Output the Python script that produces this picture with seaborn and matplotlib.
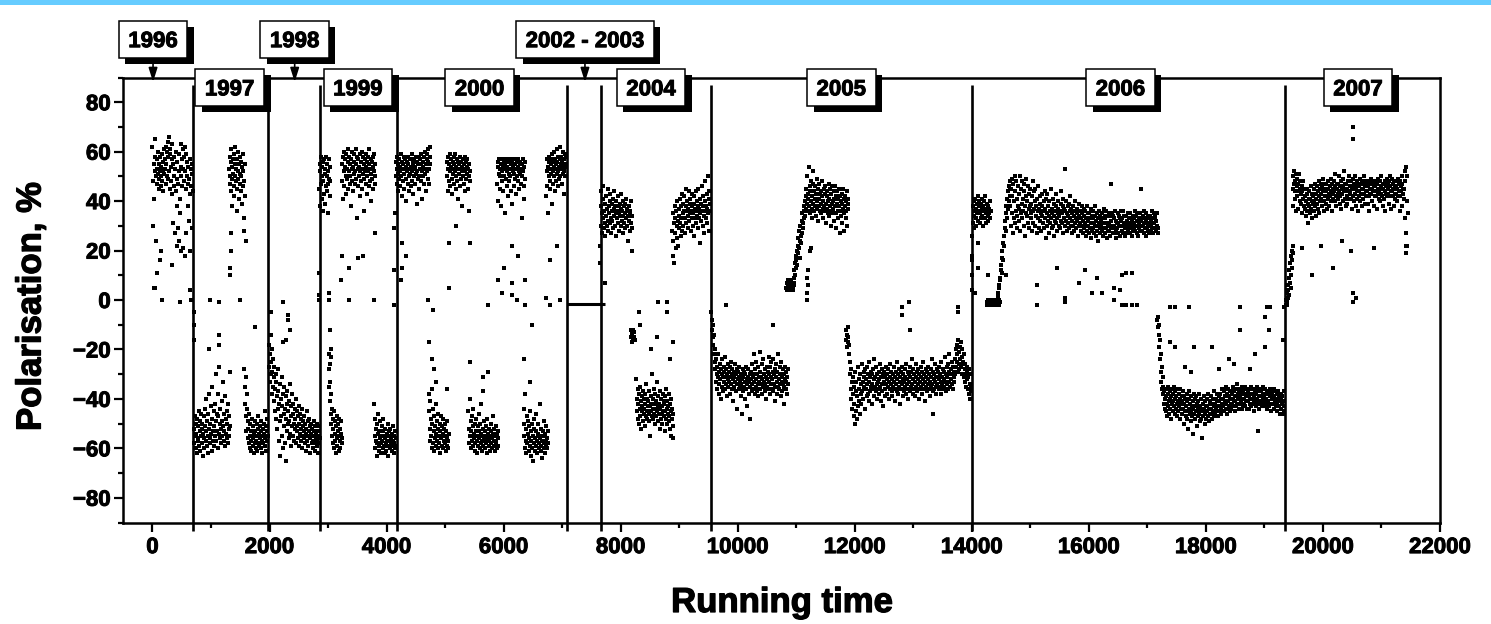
import numpy as np
import pandas as pd
import matplotlib
matplotlib.use("Agg")
import matplotlib.pyplot as plt
import matplotlib.patheffects as pe
from matplotlib.patches import Rectangle
from matplotlib.transforms import IdentityTransform
from matplotlib.ticker import MultipleLocator
import seaborn as sns

# ---------------- data ----------------
year_bounds = [700, 1980, 2870, 4170, 7080, 7660, 9545, 14000, 19350]
year_labels = ["1996", "1997", "1998", "1999", "2000", "2002 - 2003",
               "2004", "2005", "2006", "2007"]
label_x = [10, 1320, 2430, 3510, 5590, 7390, 8520, 11770, 16540, 20600]
label_row = [1, 0, 1, 0, 0, 1, 0, 0, 0, 0]       # 1 = upper row with arrow
gap_level = -1.5
gap_span = [7080, 7740]

y96 = """62 48 30 55 41 58 65 52 24 50 53 57 47 51 60 49 55 45 52 58
50 46 54 59 48 52 44 56 61 51 57 53 62 47 55 60 50 64 49 58
66 52 59 45 61 54 48 63 57 43 55 31 50 58 46 27 53 60 44 49
38 56 29 47 52 24 59 41 35 54 63 50 57 46 61 21 53 58 48 62
52 45 59 27 50 56 38 47 54 32 49 57 43 20 53 46 55 29 51 44"""
y97a = """-52 -58 -47 -55 -60 -50 -54 -62 -48 -56 -51 -57 -45 -59 -53 -49 -61 -55 -46 -52
-58 -50 -63 -54 -47 -56 -60 -51 -44 -57 -53 -40 -59 -49 -55 -62 -46 -52 -38 -58
-50 -56 -43 -54 -61 -48 -35 -53 -57 -45 -51 -59 -42 -55 -30 -49 -57 -46 -53 -38
-60 -47 -54 -27 -50 -56 -44 -52 -58 -41 -49 -55 -33 -51 -57 -46 -53 -39 -59 -48
-54 -45 -56 -50 -42 -58 -52 -47 -55 -51"""
y97b = """53 47 58 50 44 56 61 49 54 38 57 51 46 59 42 55 50 62 48 53
36 57 45 52 60 49 41 55 58 47 51 44 56 50 39 54 59 46 52 33 48 28 55 42 24"""
y97c = """-28 -42 -35 -47 -31 -53 -44 -38 -56 -49 -52 -58 -46 -55 -60 -50 -57 -53 -61 -48
-55 -59 -51 -56 -62 -54 -49 -58 -53 -60 -57 -50 -55 -61 -52 -47 -58 -54 -59 -51
-56 -60 -53 -49 -57 -62 -55 -52 -58 -50 -54 -45 -59 -56 -51 -61 -48 -57 -53 -55"""
y98 = """-18 -27 -22 -33 -14 -30 -25 -38 -20 -29 -35 -24 -41 -31 -27 -45 -36 -30 -48 -33
-39 -52 -28 -44 -37 -57 -42 -34 -49 -63 -40 -47 -31 -55 -43 -38 -60 -46 -35 -51
-44 -58 -39 -48 -65 -42 -53 -37 -50 -45 -56 -41 -49 -34 -54 -47 -59 -43 -51 -38
-46 -55 -42 -50 -57 -44 -52 -48 -40 -58 -53 -45 -51 -47 -56 -43 -59 -50 -54 -46
-52 -57 -48 -55 -44 -60 -51 -49 -56 -53 -47 -58 -50 -54 -61 -52 -45 -57 -55 -49
-59 -53 -48 -56 -51 -62 -54 -50 -58 -55 -52 -60 -57 -49 -55 -53 -61 -51 -56 -58
-54 -50 -59 -57 -53 -62 -55 -51 -58 -56"""
y99a = """45 52 38 55 47 58 41 50 54 36 56 48 43 57 51 39 53 46 58 44
50 55 47 35 52 57 49 42 54 48"""
y99b = """-22 -35 -28 -41 -33 -46 -38 -50 -44 -55 -48 -58 -52 -45 -60 -54 -49 -57 -62 -51
-56 -47 -59 -53 -50 -61 -55 -48 -57 -52 -60 -54 -49 -58 -56"""
y99c = """48 55 41 58 52 60 46 54 57 50 43 59 53 49 56 61 45 52 58 47
55 50 38 57 53 60 48 54 44 59 51 56 47 52 61 49 55 33 58 53
46 57 50 54 42 59 52 48 56 60 45 53 58 51 36 55 49 57 52 47
59 54 50 43 56 52 58 46 55 61 48 53 57 40 51 56 49 58 54 45 52 59 47 55 50"""
y99d = """-42 -55 -48 -60 -52 -57 -63 -50 -58 -54 -46 -59 -53 -61 -56 -49 -58 -62 -55 -51
-57 -60 -53 -48 -59 -55 -62 -56 -52 -58 -61 -54 -57 -50 -59 -63 -55 -53 -60 -57
-52 -58 -56 -61 -54 -59 -51 -57 -62 -55 -58 -53 -60 -56 -59"""
y00a = """35 50 56 47 53 58 44 51 55 49 57 52 46 54 59 50 42 56 53 48
55 51 58 45 53 57 49 54 40 56 52 47 55 58 50 44 53 57 51 46
54 59 48 52 56 43 55 50 57 53 47 54 58 51 39 56 52 49 55 58
50 45 57 53 48 55 59 52 41 54 56 50 58 47 53 60 51 55 44 57
52 59 49 56 61 53 47 58 55 62"""
y00b = """-38 -45 -52 -41 -57 -48 -55 -36 -60 -50 -44 -58 -53 -47 -61 -51 -56 -42 -59 -54
-49 -57 -46 -60 -52 -55 -58 -50 -62 -53 -47 -56 -59 -51 -54 -48 -60 -57 -52 -55
-58 -50 -61 -53 -56 -59 -49 -57 -60 -54"""
y00c = """50 56 44 53 58 48 55 52 59 46 54 57 49 53 43 56 51 58 47 55
52 59 45 54 50 57 48 53 56 41 55 51 58 46 53 49 56 52 38 54
57 50 55 47 53 58 44 52 56 49 54 51 57 45 53 36 55 50 52 48"""
y00d = """-45 -52 -58 -40 -55 -49 -60 -53 -47 -57 -51 -59 -44 -56 -54 -61 -50 -58 -53 -48
-57 -55 -62 -51 -59 -46 -56 -53 -60 -50 -58 -54 -42 -57 -61 -52 -55 -59 -49 -56
-53 -60 -57 -51 -58 -55 -62 -48 -56 -54 -59 -52 -57 -61 -55 -50 -58 -53 -60 -56
-54 -47 -59 -57 -52 -61 -55 -58 -51 -57 -60 -54 -56 -59 -53"""
y00e = """47 54 40 56 51 57 45 53 50 55 38 52 57 48 54 44 56 50 53 35
55 49 57 52 46 54 42 56 51 53 48 57 50 55 44 53 56 39 52 54
57 46 51 55 49 57 53 43 56 50 54 48 57 52 45 55 51 56 47 53
33 55 50 57 52 46 54 41 56 49"""
y00f = """-44 -55 -50 -60 -38 -57 -52 -62 -47 -58 -54 -49 -61 -56 -51 -59 -45 -63 -53 -57
-60 -50 -55 -65 -52 -58 -48 -61 -56 -53 -59 -46 -57 -62 -54 -50 -60 -55 -58 -42
-56 -61 -52 -59 -57 -64 -53 -55 -49 -60 -58 -54 -62 -51 -57 -59 -56 -60 -53 -58"""
y00g = """42 52 57 46 54 35 56 50 58 48 53 45 57 51 55 39 59 52 47 56
54 50 60 44 57 53 48 55 61 51 56 46 58 52 54 49 57 62 50 55
53 58 47 56 51 60 54 43 57 52 59 55 50 58 54"""
y04a = """22 38 30 44 27 35 41 33 46 29 36 31 39 26 42 34 37 30 45 32
28 38 35 40 31 43 33 27 39 36 32 41 29 37 34 44 30 38 35 26
40 33 36 42 31 38 28 35 39 34 37 30 43 32 36 27 40 34 38 31
35 29 39 33 41 36 30 37 24 34 38 32 35 28 36 40 31 20 34 29"""
y04b = "-12 -15 -13 -17 -14 -16 -12 -15 -13 -16"
y04c = """-32 -40 -45 -36 -48 -42 -38 -50 -44 -35 -47 -41 -52 -39 -45 -43 -37 -49 -46 -40
-44 -38 -51 -42 -47 -34 -45 -40 -48 -43 -41 -46 -37 -49 -43 -55 -39 -45 -42 -47
-30 -44 -40 -48 -36 -46 -42 -50 -38 -44 -41 -47 -33 -45 -43 -49 -39 -46 -42 -52
-37 -44 -48 -40 -46 -43 -50 -38 -45 -41 -47 -42 -53 -39 -45 -48 -36 -44 -50 -41
-46 -43 -49 -38 -47 -52 -42 -45 -55 -40 -48 -44 -51 -46 -56"""
y04d = """28 18 35 24 31 15 38 27 33 21 36 30 25 40 32 22 37 29 34 41
31 26 38 33 43 28 35 39 30 36 42 33 27 38 45 31 36 40 34 29
37 44 32 39 35 41 28 36 33 43 38 30 35 42 26 39 33 37 44 31
36 40 34 29 38 45 33 37 23 41 35 39 32 46 36 30 38 42 34 27
40 36 48 33 38 43 31 37 50 35 41 28 44 36 39"""
y05a = """-5 -12 -8 -15 -10 -18 -22 -14 -25 -20 -28 -33 -24 -30 -36 -27 -31 -22 -38 -29
-34 -26 -32 -40 -28 -35 -30 -24 -37 -31 -27 -33 -29 -36 -23 -31 -34 -28 -39 -30
-32 -26 -35 -29 -33 -38 -27 -31 -25 -34 -30 -36 -28 -32 -41 -29 -35 -31 -26 -33
-37 -30 -34 -28 -44 -32 -29 -36 -31 -27 -35 -33 -39 -30 -34 -46 -32 -28 -37 -31
-29 -35 -33 -40 -30 -27 -36 -32 -43 -34 -31 -28 -38 -33 -30 -35 -48 -32 -29 -37
-26 -34 -31 -36 -22 -33 -30 -38 -28 -35 -32 -25 -37 -30 -34 -27 -39 -31 -33 -21
-36 -29 -34 -31 -26 -38 -32 -35 -24 -33 -30 -37 -28 -34 -31 -40 -27 -35 -32 -29
-36 -23 -33 -30 -38 -27 -34 -31 -25 -36 -32 -29 -37 -24 -34 -30 -41 -28 -35 -31
-26 -33 -38 -29 -35 -22 -32 -36 -27 -34 -30 -39 -25 -33 -31 -37 -28 -34 -42 -30
-35 -27 -32 -36 -29 -33 -38 -31 -28 -34"""
y05b = "5 7 4 8 6 5 7 4 6 8 5 6 7 4 6"
y05c = """5 9 7 12 10 15 13 18 16 20 14 22 19 25 21 28 17 24 30 26
23 32 27 35 29 31 38 33 36 40 34 42 37 45 39 50 36 43 41 54
38 46 35 44 40 48 33 42 37 47 39 52 36 44 41 38 46 34 43 40
49 37 45 32 41 38 47 36 43 39 44 35 42 48 37 40 33 45 38 43
36 46 39 31 42 37 44 35 40 47 34 41 38 45 36 30 43 39 46 35
40 37 44 32 41 38 46 35 42 29 39 44 36 41 33 45 38 27 42 36
40 34 43 31 39 37 45 35 41 28 38 42 33 40 36 44 30 39 37 41"""
y05d = """-12 -16 -14 -19 -11 -17 -15 -22 -18 -25 -30 -36 -28 -40 -33 -44 -31 -38 -47 -35
-42 -29 -50 -37 -45 -33 -48 -39 -27 -43 -36 -41 -32 -46 -30 -38 -34 -42 -26 -37
-33 -40 -29 -35 -31 -44 -28 -36 -32 -39 -34 -27 -38 -30 -41 -33 -25 -37 -31 -35
-29 -42 -34 -30 -36 -28 -39 -32 -24 -35 -31 -37 -27 -34 -40 -30 -33 -36 -29 -38
-32 -26 -35 -41 -31 -34 -28 -37 -30 -43 -33 -29 -36 -31 -39 -27 -34 -32 -38 -30
-35 -28 -33 -40 -31 -36 -26 -34 -29 -37 -32 -39 -30 -35 -27 -33 -41 -31 -36 -29
-34 -25 -37 -32 -30 -38 -28 -35 -33 -42 -31 -36 -29 -34 -27 -39 -32 -30 -37 -33
-28 -35 -31 -38 -26 -34 -32 -29 -36 -40 -30 -33 -27 -37 -31 -35 -29 -34 -24 -38
-32 -28 -36 -30 -33 -39 -31 -26 -35 -29 -37 -32 -34 -28 -40 -30 -33 -36 -27 -35
-31 -38 -29 -34 -32 -25 -36 -30 -33 -41 -28 -35 -31 -37 -29 -34 -32 -27 -36 -30
-33 -39 -28 -35 -31 -24 -34 -37 -29 -32 -36 -30 -26 -33 -38 -31 -35 -28 -34 -31
-29 -36 -32 -27 -35 -30 -38 -33 -25 -34 -31 -28 -36 -32 -29 -35 -23 -33 -30 -37
-27 -34 -31 -26 -36 -29 -33 -22 -35 -30 -28 -32 -25 -34 -30 -27 -36 -31 -29 -33
-24 -30 -20 -27 -18 -25 -22 -29 -16 -26 -21 -28 -19 -24 -17 -27 -23 -30 -20 -26
-25 -31 -22 -28 -33 -26 -30 -35 -27 -32 -29 -36 -31 -38 -28 -34 -40 -30 -35 -37"""
y06a = """18 26 31 38 34 40 29 36 41 33 37 30 39 35 42 32 38 36 40 31
35 39 33 41 37 34 38 30 36 40 33 37 42 35 31 39 36 34 38 32 37 35 40 33 36"""
y06b = """-1 -2 0 -1 -2 -1 0 -2 -1 -1 0 -2 -1 -2 0 -1 -1 -2 0 -1
-2 -1 0 -1 -2 -1 0 -2 -1 -1"""
y06c = """1 3 2 6 5 9 8 12 14 11 17 20 16 23 26 22 29 32 28 35
38 33 41 37 44 40 46 42 48 45"""
y06d = """38 45 30 49 35 42 27 47 33 40 50 31 44 36 48 29 41 34 46 38
32 43 37 50 28 45 35 39 48 33 41 36 47 30 44 38 26 42 35 49
34 40 31 46 37 43 29 38 45 33 39 35 42 28 48 36 31 44 37 40
30 45 34 38 27 41 36 33 46 29 37 42 32 39 35 28 43 34 38 31
36 40 29 44 33 37 25 41 35 30 43 32 38 34 27 40 36 31 45 33
29 37 35 41 30 34 39 26 36 32 38 31 43 33 28 37 35 40 30 34
36 29 39 32 44 35 31 38 27 41 33 37 30 36 53 32 40 28 35 38
31 34 39 29 36 33 42 30 37 27 35 32 38 30 34 28 36 40 31 33
29 37 32 35 26 33 39 30 34 31 36 28 33 38 30 35 27 32 37 29
34 31 36 26 33 30 38 28 35 32 30 35 27 33 29 37 31 25 34 28
33 29 36 31 27 34 30 38 26 32 28 35 30 33 24 31 36 29 34 27
32 30 35 28 33 26 31 37 29 34 27 33 29 36 31 25 34 30 28 35
31 28 34 26 32 47 29 35 30 27 34 30 27 33 29 36 28 32 25 31
29 35 31 27 34 30 33 26 32 36 32 28 33 30 36 27 31 34 29 26
30 34 27 32 29 35 31 28 33 30 27 31 35 29 33 26 32 30 34 28
33 29 31 36 28 34 30 27 32 35 30 26 33 31 29 35 28 32 45 30
28 33 30 34 27 31 36 29 33 26 32 35 29 31 28 34 30 33 27 31
34 28 32 30 36 29 33 31 27 35 31 33 29 34 28 32 30 35 29 27"""
y06e = """-8 -11 -7 -14 -10 -19 -24 -16 -29 -22 -33 -27 -36 -31 -38 -35 -42 -37 -40 -44
-39 -45 -36 -42 -47 -38 -43 -35 -41 -46 -40 -37 -44 -39 -48 -36 -42 -45 -38 -41
-43 -35 -46 -40 -37 -44 -39 -47 -42 -36 -41 -45 -38 -43 -40 -48 -36 -42 -44 -39
-46 -41 -37 -44 -50 -42 -39 -45 -40 -47 -43 -38 -48 -41 -45 -52 -40 -44 -37 -46
-42 -49 -39 -45 -43 -47 -41 -54 -44 -38 -46 -40 -48 -43 -45 -39 -51 -42 -47 -44
-41 -46 -38 -49 -43 -45 -40 -48 -44 -56 -45 -42 -47 -39 -44 -50 -41 -46 -43 -48
-40 -45 -43 -47 -38 -44 -49 -42 -46 -41 -44 -39 -46 -42 -48 -40 -45 -43 -37 -47
-42 -46 -40 -44 -38 -45 -41 -47 -43 -39 -45 -41 -43 -38 -46 -40 -44 -42 -36 -45
-40 -43 -37 -45 -41 -39 -44 -35 -42 -46 -38 -44 -41 -36 -43 -39 -45 -40 -37 -42
-44 -38 -42 -35 -40 -43 -37 -41 -39 -45 -41 -36 -43 -39 -34 -42 -38 -40 -44 -37
-39 -42 -36 -41 -38 -44 -35 -40 -43 -37 -42 -38 -40 -35 -43 -39 -41 -36 -44 -38
-37 -41 -39 -44 -36 -40 -42 -38 -35 -43 -40 -38 -42 -36 -41 -39 -45 -37 -40 -43
-38 -42 -35 -40 -53 -37 -41 -39 -44 -36 -42 -39 -37 -41 -36 -43 -38 -40 -35 -42
-39 -43 -36 -41 -38 -40 -44 -37 -42 -38 -41 -37 -43 -39 -36 -42 -38 -45 -40 -37
-38 -42 -40 -36 -44 -39 -41 -37 -43 -40 -42 -38 -45 -40 -37 -43 -39 -41 -46 -38
-40 -44 -38 -42 -39 -46 -41 -37 -43 -45"""
y07a = "-2 0 -1 3 1 6 4 9 2 12 7 15 10 5 18 13 20 16 22 19"
y07b = """45 50 38 47 52 41 48 44 51 36 46 42 49 37 47 44 51 40 45 48
43 39 46 35 44 41 48 38 45 42 37 42 34 40 45 36 43 39 31 41
38 44 35 41 46 37 40 33 43 39 42 36 45 40 38 47 34 43 41 46
39 44 37 48 42 35 45 40 47 43 41 46 38 44 49 40 36 45 42 47
44 39 47 42 37 45 41 48 43 38 46 42 49 40 44 36 47 43 45 41
48 44 40 46 51 42 38 45 47 43 41 47 44 50 39 46 42 48 37 45
43 49 40 46 44 52 41 47 45 38 47 42 45 39 48 44 50 41 46 43
44 48 41 46 37 45 49 42 47 40 46 43 50 38 45 41 48 44 36 47
42 46 44 49 40 47 43 45 38 48 45 41 47 43 50 39 46 44 48 42
47 44 39 46 42 48 36 45 43 49 43 47 45 40 48 44 46 38 47 42
46 42 48 44 37 47 45 43 49 41 44 48 40 46 43 50 42 45 38 47
45 41 47 44 48 36 46 43 49 42 47 43 45 39 48 46 42 50 44 37
44 49 42 47 45 38 48 43 46 41 46 43 48 40 45 49 42 47 44 36
48 42 46 44 50 38 47 43 45 41 45 52 33 48 27 54 40 22 50 35"""

cluster_values = [y96, y97a, y97b, y97c, y98, y99a, y99b, y99c, y99d,
                  y00a, y00b, y00c, y00d, y00e, y00f, y00g,
                  y04a, y04b, y04c, y04d, y05a, y05b, y05c, y05d,
                  y06a, y06b, y06c, y06d, y06e, y07a, y07b]
cluster_start = [0, 710, 1310, 1570, 1990, 2850, 3010, 3240, 3790,
                 4150, 4720, 5030, 5400, 5890, 6340, 6730,
                 7650, 8170, 8270, 8880, 9550, 10830, 10950, 11850,
                 14000, 14260, 14440, 14660, 17170, 19370, 19480]
cluster_end = [690, 1320, 1590, 1970, 2860, 3040, 3240, 3810, 4160,
               4750, 5060, 5430, 5910, 6370, 6760, 7070,
               8200, 8240, 8900, 9530, 10860, 10960, 11890, 13990,
               14320, 14480, 14660, 17180, 19340, 19490, 21450]

# isolated points
stray_t = [34, 165, 478, 666, 40, 80, 125, 150, 330, 420, 480, 560, 640,
           710, 712, 715, 968, 980, 1130, 1135, 1144, 1330, 1332, 1335, 1337, 1330, 1492, 1760,
           2027, 2222, 2232, 2278, 2310, 2315, 2357,
           2840, 2840, 2845, 3010, 3010, 3040, 3045, 3045, 3040, 3220, 3240, 3355, 3355, 3520, 3590, 3780, 3810,
           4130, 4130, 4130, 4240, 4270, 4270, 4330, 4700, 4720, 4780, 4800, 4810, 4840, 5040, 5060, 5060,
           5190, 5420, 5430, 5640, 5650, 5740, 5740, 5910, 5980, 6000, 6150, 6150, 6150, 6230, 6240,
           6350, 6360, 6370, 6450, 6490, 6730, 6800, 6800, 6920, 6960,
           7650, 7740, 8320, 8330, 8520, 8620, 8630, 8790, 8800, 8850, 8900,
           9800, 10600, 11190, 11190, 11195, 11190, 11200, 11240, 11260,
           12810, 12810, 12920, 12940, 13340, 13770, 13770,
           14000, 14005, 14010, 14060, 14110, 14110, 14270, 14580,
           15110, 15110, 15450, 15600, 15600, 15840, 15940, 16050, 16140, 16220, 16430, 16430,
           16530, 16570, 16630, 16730, 16570, 16630, 16730, 16820,
           17390, 17470, 17710, 18590, 19040, 19100, 17380, 17470, 17790, 18100, 18590, 19010,
           19070, 19010, 18400, 18480, 18220, 18840, 18750, 17640, 17740, 19310, 19330,
           20520, 20520, 20520, 20560, 20520, 19640, 19820, 20170, 20480, 20870, 19960, 20320,
           21420, 21420, 19380]
stray_v = [5, 0, -1, 0, 5, 11, 16, 20, 14, 22, 20, 18, 4,
           -5, -10, -16, -20, 0, -14, -18, -1, 10, 13, 20, 27, -29, 0, -11,
           -5, -17, -1, -16, -6, -8, -12,
           11, 2, 0, 0, 3, -12, -20, -23, -26, 8, 18, 13, 0, 17, 18, 0, 27,
           -2, 12, 29, 8, 23, 13, 18, 0, -17, -24, -4, -28, -33, -36, 23, 5,
           30, 23, -25, -37, -31, -2, -29, 8, 3, 13, 2, 7, 22, 0, 18,
           -24, 8, -2, -33, -10, 1, -2, 16, 22, 0,
           15, 7, -5, -10, -20, -15, -1, -1, -5, -24, -17,
           -2, -10, 0, 3, 6, 9, 12, 20, 21,
           -3, -6, -1, -12, -46, -3, -5,
           16, 10, 4, 3, 23, 13, 10, 10,
           6, -2, 13, 1, -1, 7, 12, 3, 9, 3, 5, 0,
           4, 10, 11, 11, -2, -2, -2, -2,
           -3, -3, -3, -3, -3, -3, -17, -19, -19, -19, -12, -7,
           -12, -19, -24, -26, -28, -22, -28, -27, -29, -16, -3,
           70, 65, 3, 1, -1, 21, 10, 13, 20, 21, 22, 24,
           19, 22, -2]

# ---------------- build table ----------------
times, pols = [], []
for vals, t0, t1 in zip(cluster_values, cluster_start, cluster_end):
    v = np.array(vals.split(), dtype=float)
    times.append(np.linspace(t0, t1, len(v)))
    pols.append(v)
times.append(np.array(stray_t, dtype=float))
pols.append(np.array(stray_v, dtype=float))
df = pd.DataFrame({"time": np.concatenate(times), "pol": np.concatenate(pols)})

# ---------------- plot ----------------
sns.set_theme(style="ticks")
plt.rcParams["font.family"] = ["Liberation Sans", "DejaVu Sans"]
plt.rcParams["font.weight"] = "bold"
for key in ["text.color", "axes.labelcolor", "xtick.color", "ytick.color",
            "axes.edgecolor"]:
    plt.rcParams[key] = "black"

heavy = [pe.withStroke(linewidth=0.9, foreground="black")]

W, H = 1491, 624
fig = plt.figure(figsize=(W / 100, H / 100), dpi=100, facecolor="white")
ax = fig.add_axes([123.2 / W, 1 - 522.5 / H, (1440 - 123.2) / W, 445 / H])
ax.set_facecolor("white")

sns.scatterplot(data=df, x="time", y="pol", ax=ax, color="black", marker="s",
                s=6.5, linewidth=0, legend=False, zorder=2)

ax.vlines(year_bounds, -93.6, 87, colors="black", lw=1.9, clip_on=False, zorder=3)
ax.hlines(gap_level, gap_span[0], gap_span[1], colors="black", lw=2.2, zorder=3)

ax.set_xlim(-500, 22000)
ax.set_ylim(-90, 90)
ax.xaxis.set_major_locator(MultipleLocator(2000))
ax.xaxis.set_minor_locator(MultipleLocator(1000))
ax.yaxis.set_major_locator(MultipleLocator(20))
ax.yaxis.set_minor_locator(MultipleLocator(10))
ax.set_xlabel("")
ax.set_ylabel("")
for sp in ax.spines.values():
    sp.set_visible(True)
    sp.set_linewidth(1.8)
    sp.set_color("black")
ax.tick_params(axis="both", which="both", bottom=True, left=True, top=False, right=False)
ax.tick_params(axis="both", which="major", direction="out", length=6.5, width=1.6,
               labelsize=16, colors="black")
ax.tick_params(axis="both", which="minor", direction="out", length=3.6, width=1.6,
               colors="black")
ax.tick_params(axis="x", which="major", pad=4)
ax.tick_params(axis="y", which="major", pad=2.5)
for lab in ax.get_xticklabels() + ax.get_yticklabels():
    lab.set_fontweight("bold")
    lab.set_path_effects([pe.withStroke(linewidth=0.7, foreground="black")])

fig.text(782 / W, 1 - 612 / H, "Running time", ha="center", va="baseline",
         fontsize=25, fontweight="bold", color="black", path_effects=heavy)
fig.text(31 / W, 1 - 306.5 / H, "Polarisation, %", ha="center", va="center",
         rotation=90, fontsize=25, fontweight="bold", color="black", path_effects=heavy)

# year label boxes with shadow
row_y = {0: 86.0, 1: 105.5}
fig.canvas.draw()
renderer = fig.canvas.get_renderer()
fs = 16
cap = 0.716 * fs * 100 / 72
for lab, lx, row in zip(year_labels, label_x, label_row):
    px, py = ax.transData.transform((lx, row_y[row]))
    t = fig.text(px / W, (py - cap / 2) / H, lab, ha="center", va="baseline",
                 fontsize=fs, fontweight="bold", color="black", zorder=7,
                 path_effects=[pe.withStroke(linewidth=0.7, foreground="black")])
    bb = t.get_window_extent(renderer)
    bw, bh = bb.width + 19, 37
    fig.add_artist(Rectangle((px - bw / 2 + 6.5, py - bh / 2 - 6.5), bw, bh,
                             transform=IdentityTransform(), facecolor="black",
                             edgecolor="none", zorder=5))
    fig.add_artist(Rectangle((px - bw / 2, py - bh / 2), bw, bh,
                             transform=IdentityTransform(), facecolor="white",
                             edgecolor="black", lw=1.1, zorder=6))
    if row == 1:
        ax.annotate("", xy=(lx, 88.2), xytext=(lx, 97.5),
                    arrowprops=dict(arrowstyle="-|>,head_length=0.7,head_width=0.22",
                                    color="black", lw=1.2, shrinkA=0, shrinkB=0,
                                    mutation_scale=12),
                    annotation_clip=False, zorder=4)

# light blue band at the top
fig.add_artist(Rectangle((0, 1 - 5 / H), 1, 5 / H, transform=fig.transFigure,
                         facecolor="#66CCFF", edgecolor="none", zorder=10))

fig.savefig("out.png", dpi=100, facecolor="white")
